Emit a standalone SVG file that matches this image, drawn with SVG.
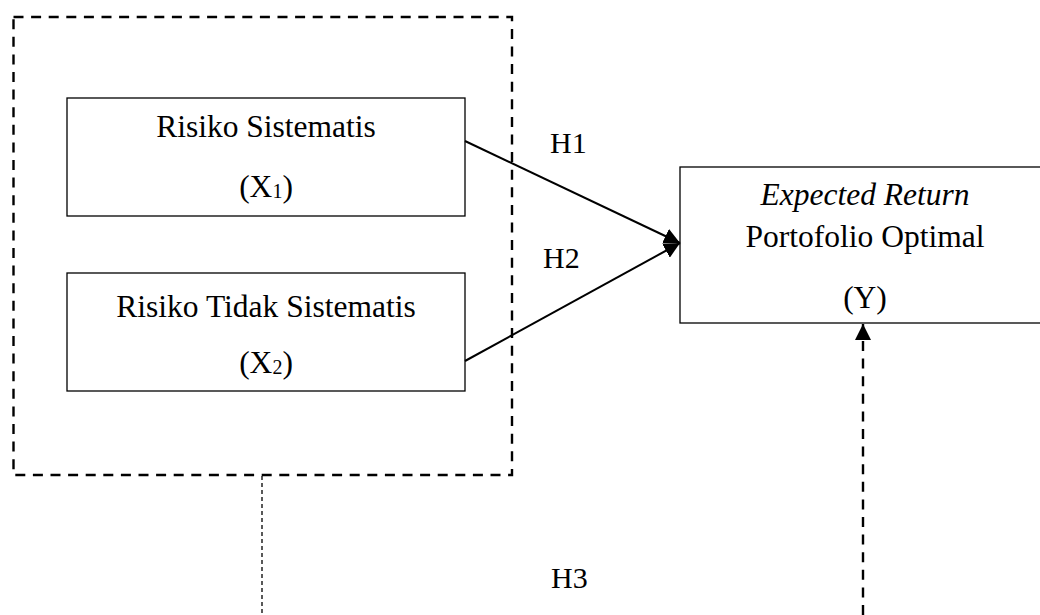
<svg xmlns="http://www.w3.org/2000/svg" width="1040" height="615" viewBox="0 0 1040 615">
<style>
.box{fill:#fff;stroke:#000;stroke-width:1.3}
.t{font-family:"Liberation Serif","Times New Roman",serif;font-size:31.5px;fill:#000;text-anchor:middle}
.h{font-family:"Liberation Serif","Times New Roman",serif;font-size:30px;fill:#000}
.sub{font-size:20px}
.solid{stroke:#000;stroke-width:2;fill:none}
.dash{stroke:#000;stroke-width:2.4;fill:none;stroke-dasharray:10 7.6}
.dot{stroke:#000;stroke-width:1.3;fill:none;stroke-dasharray:4 3}
</style>
<defs>
<marker id="ah" markerUnits="userSpaceOnUse" markerWidth="18" markerHeight="16" refX="16" refY="8" orient="auto">
<path d="M0,0 L16,8 L0,16 Z" fill="#000"/>
</marker>
</defs>
<rect width="1040" height="615" fill="#fff"/>
<g id="group-box">
<rect x="13.5" y="17" width="498.5" height="458" class="dash"/>
</g>
<g id="x1">
<rect x="67" y="98" width="398" height="118" class="box"/>
<text class="t" x="266" y="137">Risiko Sistematis</text>
<text class="t" x="266" y="197">(X<tspan class="sub" dy="1">1</tspan><tspan dy="-1">)</tspan></text>
</g>
<g id="x2">
<rect x="67" y="273" width="398" height="118" class="box"/>
<text class="t" x="266" y="317">Risiko Tidak Sistematis</text>
<text class="t" x="266" y="373">(X<tspan class="sub" dy="1">2</tspan><tspan dy="-1">)</tspan></text>
</g>
<g id="y">
<rect x="680" y="167" width="380" height="156" class="box"/>
<text class="t" x="865" y="205" font-style="italic">Expected Return</text>
<text class="t" x="865" y="247">Portofolio Optimal</text>
<text class="t" x="865" y="308">(Y)</text>
</g>
<g id="connectors">
<line x1="465" y1="141" x2="680" y2="243" class="solid" marker-end="url(#ah)"/>
<line x1="465" y1="361" x2="680" y2="243" class="solid" marker-end="url(#ah)"/>
<line x1="262" y1="476" x2="262" y2="615" class="dot"/>
<line x1="863" y1="615" x2="863" y2="324" class="dash" marker-end="url(#ah)"/>
</g>
<g id="labels">
<text class="h" x="550" y="153">H1</text>
<text class="h" x="543" y="268">H2</text>
<text class="h" x="551" y="588">H3</text>
</g>
</svg>
